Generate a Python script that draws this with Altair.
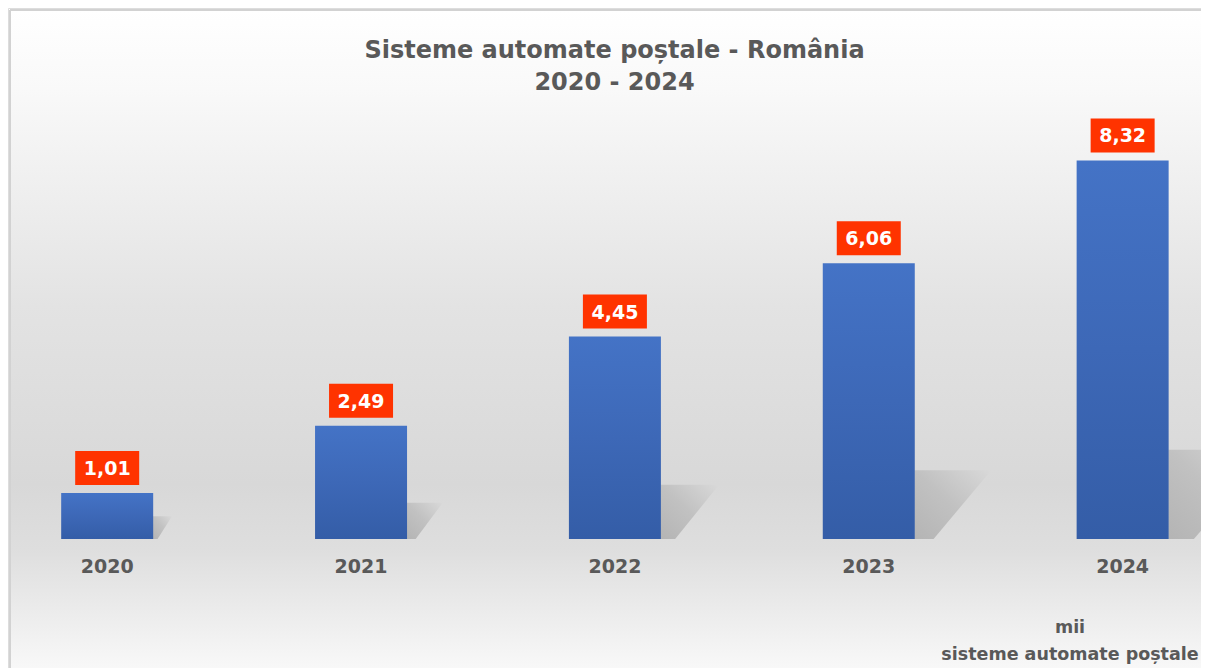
import altair as alt
import pandas as pd

# ---- data ----
years = [2020, 2021, 2022, 2023, 2024]
values = [1.01, 2.49, 4.45, 6.06, 8.32]
year_labels = ["2020", "2021", "2022", "2023", "2024"]
value_labels = ["1,01", "2,49", "4,45", "6,06", "8,32"]
title_lines = ["Sisteme automate poștale - România", "2020 - 2024"]
unit_lines = ["mii", "sisteme automate poștale"]

FONT = "DejaVu Sans"
GREY_TXT = "#595959"
W, H = 1193, 660

df = pd.DataFrame({"year": years, "value": values,
                   "ylabel": year_labels, "vlabel": value_labels})

# perspective shadow shapes derived from the bar values (styling effect)
rows = []
half = 46 / 256
for y, v in zip(years, values):
    h = 0.3 + 0.2 * v
    w = 0.03 + 0.045 * v
    r = y + half
    rows.append({"year": y, "sx": r, "lo": 0.0, "hi": h})
    rows.append({"year": y, "sx": r + 0.25 * w, "lo": 0.0, "hi": h})
    rows.append({"year": y, "sx": r + w, "lo": h, "hi": h})
shadow_df = pd.DataFrame(rows)

xscale = alt.Scale(domain=[2019.629, 2024.289], nice=False, zero=False)
yscale = alt.Scale(domain=[-2.836, 11.672], nice=False, zero=False)

one = pd.DataFrame({"k": [0]})

background = alt.Chart(one).mark_rect(
    color=alt.Gradient(
        gradient="linear",
        stops=[
            alt.GradientStop(color="#ffffff", offset=0),
            alt.GradientStop(color="#f9f9f9", offset=0.12),
            alt.GradientStop(color="#e3e3e3", offset=0.45),
            alt.GradientStop(color="#d8d8d8", offset=0.72),
            alt.GradientStop(color="#dedede", offset=0.82),
            alt.GradientStop(color="#f8f8f8", offset=1),
        ],
        x1=0, x2=0, y1=0, y2=1,
    )
).encode(x=alt.value(2), x2=alt.value(W), y=alt.value(2), y2=alt.value(H))

frame_left = alt.Chart(one).mark_rule(color="#d2d2d2", strokeWidth=2).encode(
    x=alt.value(2), y=alt.value(2), y2=alt.value(H))
frame_top = alt.Chart(one).mark_rule(color="#d2d2d2", strokeWidth=2).encode(
    x=alt.value(2), x2=alt.value(W), y=alt.value(2))

shadows = alt.Chart(shadow_df).mark_area(
    color=alt.Gradient(
        gradient="linear",
        stops=[
            alt.GradientStop(color="#adadad", offset=0),
            alt.GradientStop(color="#bdbdbd", offset=0.5),
            alt.GradientStop(color="#d9d9d9", offset=1),
        ],
        x1=0, y1=1, x2=1, y2=0,
    ),
    interpolate="linear",
    opacity=0.85,
).encode(
    x=alt.X("sx:Q", scale=xscale, axis=None),
    y=alt.Y("lo:Q", scale=yscale, axis=None),
    y2="hi:Q",
    detail="year:N",
)

bars = alt.Chart(df).mark_bar(
    width=92,
    color=alt.Gradient(
        gradient="linear",
        stops=[
            alt.GradientStop(color="#4473c6", offset=0),
            alt.GradientStop(color="#3d68b7", offset=0.5),
            alt.GradientStop(color="#345da7", offset=1),
        ],
        x1=0, x2=0, y1=0, y2=1,
    ),
).encode(
    x=alt.X("year:Q", scale=xscale, axis=None),
    y=alt.Y("value:Q", scale=yscale, axis=None),
    y2=alt.datum(0),
)

boxes = alt.Chart(df).mark_point(
    shape="M-1,-0.53L1,-0.53L1,0.53L-1,0.53Z",
    size=4096, filled=True, color="#ff3300", opacity=1, strokeWidth=0,
    yOffset=-25,
).encode(
    x=alt.X("year:Q", scale=xscale, axis=None),
    y=alt.Y("value:Q", scale=yscale, axis=None),
)

box_text = alt.Chart(df).mark_text(
    font=FONT, fontSize=19, fontWeight="bold", color="#ffffff",
    baseline="middle", dy=-24,
).encode(
    x=alt.X("year:Q", scale=xscale, axis=None),
    y=alt.Y("value:Q", scale=yscale, axis=None),
    text="vlabel:N",
)

year_text = alt.Chart(df).mark_text(
    font=FONT, fontSize=19, fontWeight="bold", color=GREY_TXT,
    baseline="middle", dy=28,
).encode(
    x=alt.X("year:Q", scale=xscale, axis=None),
    y=alt.datum(0, scale=yscale),
    text="ylabel:N",
)

unit_text = alt.Chart(pd.DataFrame({"t": ["\n".join(unit_lines)]})).mark_text(
    font=FONT, fontSize=17.5, fontWeight="bold", color=GREY_TXT,
    baseline="top", lineBreak="\n", lineHeight=27, align="center",
).encode(x=alt.value(1062), y=alt.value(611), text="t:N")

chart = alt.layer(
    background, frame_left, frame_top, shadows, bars, boxes, box_text,
    year_text, unit_text,
).properties(
    width=W, height=H,
    title=alt.TitleParams(
        text=title_lines, font=FONT, fontSize=24, fontWeight="bold",
        color=GREY_TXT, anchor="middle", frame="group", baseline="top",
        lineHeight=32, offset=-87, dx=10,
    ),
    autosize=alt.AutoSizeParams(type="none"),
    padding=0,
).configure_view(stroke=None).configure(background="#ffffff")

chart.save("out.html", embed_options={"renderer": "svg", "actions": False})
